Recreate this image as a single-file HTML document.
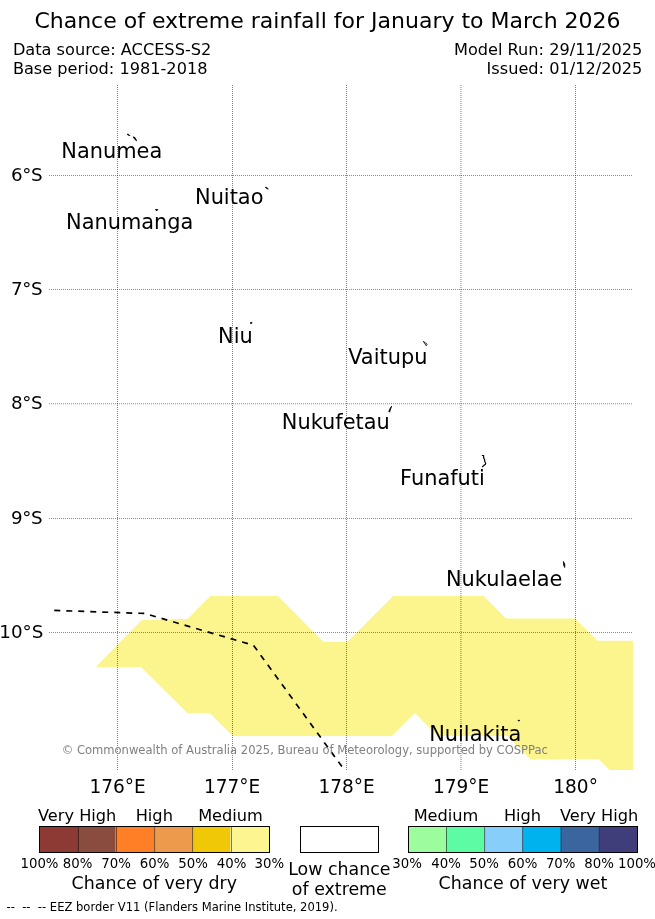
<!DOCTYPE html>
<html lang="en">
<head>
<meta charset="utf-8">
<title>Chance of extreme rainfall for January to March 2026</title>
<style>
html,body{margin:0;padding:0;background:#fff;}
body{width:655px;height:919px;overflow:hidden;}
svg{display:block;}
text{font-family:"DejaVu Sans","Liberation Sans",sans-serif;fill:#000;}
.title{font-size:22px;}
.info{font-size:16.17px;}
.isl{font-size:20.9px;}
.ax{font-size:18.3px;}
.lat{letter-spacing:-0.45px;}
.lon{font-size:18.55px;}
.tick{font-size:13.3px;}
.cat{font-size:16.2px;}
.cbl{font-size:17.4px;}
.copy{font-size:11.55px;fill:#808080;}
.foot{font-size:11.55px;}
.grid{stroke:#000;stroke-width:1;stroke-dasharray:1 1;fill:none;}
.gh{stroke-opacity:.45;}
.gv{stroke-opacity:.5;}
.land{fill:#000;stroke:#000;stroke-width:0.8;stroke-linejoin:round;}
</style>
</head>
<body>
<svg width="655" height="919" viewBox="0 0 655 919">
<rect x="0" y="0" width="655" height="919" fill="#ffffff"/>

<!-- header -->
<text class="title" x="327.5" y="27.8" text-anchor="middle">Chance of extreme rainfall for January to March 2026</text>
<text class="info" x="12.9" y="54.6">Data source: ACCESS-S2</text>
<text class="info" x="12.9" y="73.6">Base period: 1981-2018</text>
<text class="info" x="642.3" y="54.6" text-anchor="end">Model Run: 29/11/2025</text>
<text class="info" x="642.3" y="73.6" text-anchor="end">Issued: 01/12/2025</text>

<!-- shaded area -->
<path id="dry30" fill="#fcf58d" d="M95.9 666.9 L141.7 620 H171.2 V619.1 H187.5 L210.3 596.1 H277.9 L323.6 642.1 H347.2 L393.1 596.1 H483.7 L506 618.6 H575.2 L597.5 640.8 H633 V770 H609.6 L598.9 759.3 H530.7 L507.5 736.1 H437.9 L414.9 713.1 L391.9 736.1 H232.6 L209.7 713 H187.3 L140.9 666.9 Z"/>

<!-- grid -->
<g class="grid">
<path class="gh" d="M49 175.5H633"/>
<path class="gh" d="M49 289.5H633"/>
<path class="gh" d="M49 403.75H633"/>
<path class="gh" d="M49 518.5H633"/>
<path class="gh" d="M49 632.5H633"/>
<path class="gv" d="M117.5 85V770"/>
<path class="gv" d="M232.5 85V770"/>
<path class="gv" d="M346.5 85V770"/>
<path class="gv" d="M460.95 85V770"/>
<path class="gv" d="M575.5 85V770"/>
</g>

<!-- EEZ border -->
<path fill="none" stroke="#000" stroke-width="1.7" stroke-dasharray="6 6" d="M54.3 610.4 L145 613.5 L155 616.5 L253.5 645.3 L341.9 766.6"/>

<!-- islands -->
<g class="land">
<path d="M127 134.2 L128.7 134.4 L129.9 135.6 L128.3 135.3 Z"/>
<path d="M133.1 136.9 L134.9 137.4 L136.7 140.8 L135 139.6 Z"/>
<path d="M265.3 187.2 L266.8 187.6 L268.3 189.0 L266.6 188.6 Z"/>
<path d="M155.5 209.5 L157.9 209.5 L156.6 211 Z"/>
<path d="M250.6 322.5 L251.9 322.3 L251.7 323.5 L250.5 323.6 Z"/>
<path d="M423.3 341.3 L427.2 344.2 L426.2 345.8 Z" fill="none"/>
<path d="M391.6 406.2 L390.6 409 L389.6 412.2 L388.8 411.4 L390 408.6 Z"/>
<path d="M563.4 561.5 L564.8 564.2 L564.7 567.5 L563.6 565 Z"/>
<path d="M518 720.3 L519.6 720.3 L519.6 720.8 L518 720.8 Z"/>
</g>
<path fill="none" stroke="#000" stroke-width="1.2" stroke-linejoin="round" stroke-linecap="round" d="M482.3 455.5 L483.6 455.5 L483.7 458.2 L484.6 459.5 L484.8 461.4 L485.7 463.2 L485.4 464.3 L483.7 465.6 L482.4 466.7"/>

<!-- island labels -->
<text class="isl" x="61.3" y="157.5">Nanumea</text>
<text class="isl" x="195" y="204">Nuitao</text>
<text class="isl" x="66" y="228.6">Nanumanga</text>
<text class="isl" x="218" y="343">Niu</text>
<text class="isl" x="348.2" y="363.6">Vaitupu</text>
<text class="isl" x="281.8" y="428.8">Nukufetau</text>
<text class="isl" x="400.1" y="484.6">Funafuti</text>
<text class="isl" x="445.9" y="585.9">Nukulaelae</text>
<text class="isl" x="429.2" y="741.1">Nuilakita</text>

<!-- copyright -->
<text class="copy" x="61.7" y="753.7">© Commonwealth of Australia 2025, Bureau of Meteorology, supported by COSPPac</text>

<!-- latitude labels -->
<text class="ax lat" x="42.1" y="181" text-anchor="end">6°S</text>
<text class="ax lat" x="42.1" y="295.2" text-anchor="end">7°S</text>
<text class="ax lat" x="42.1" y="409.4" text-anchor="end">8°S</text>
<text class="ax lat" x="42.1" y="523.6" text-anchor="end">9°S</text>
<text class="ax" x="43.3" y="637.8" text-anchor="end">10°S</text>
<!-- longitude labels -->
<text class="ax lon" x="117.6" y="793.2" text-anchor="middle">176°E</text>
<text class="ax lon" x="232.1" y="793.2" text-anchor="middle">177°E</text>
<text class="ax lon" x="346.6" y="793.2" text-anchor="middle">178°E</text>
<text class="ax lon" x="461.1" y="793.2" text-anchor="middle">179°E</text>
<text class="ax lon" x="575.6" y="793.2" text-anchor="middle">180°</text>

<!-- dry colour bar -->
<g>
<rect x="39.5" y="826.5" width="38.5" height="26" fill="#8c3a33"/>
<rect x="78" y="826.5" width="37" height="26" fill="#8a4c3e"/>
<rect x="115" y="826.5" width="39.6" height="26" fill="#ff7f27"/>
<rect x="154.6" y="826.5" width="38.1" height="26" fill="#ee9a4c"/>
<rect x="192.7" y="826.5" width="37.4" height="26" fill="#f0c808"/>
<rect x="230.1" y="826.5" width="39.4" height="26" fill="#fdf590"/>
<path d="M78.4 826.5V852.5M116.4 826.5V852.5M154.6 826.5V852.5M192.6 826.5V852.5M231.4 826.5V852.5" stroke="#000" stroke-width="0.55" fill="none"/>
<rect x="39.5" y="826.5" width="230" height="26" fill="none" stroke="#000" stroke-width="1"/>
</g>
<text class="cat" x="38" y="820.8">Very High</text>
<text class="cat" x="154.3" y="820.8" text-anchor="middle">High</text>
<text class="cat" x="230.5" y="820.8" text-anchor="middle">Medium</text>
<text class="tick" x="39.5" y="868.3" text-anchor="middle">100%</text>
<text class="tick" x="77.6" y="868.3" text-anchor="middle">80%</text>
<text class="tick" x="116" y="868.3" text-anchor="middle">70%</text>
<text class="tick" x="154.5" y="868.3" text-anchor="middle">60%</text>
<text class="tick" x="193" y="868.3" text-anchor="middle">50%</text>
<text class="tick" x="231.5" y="868.3" text-anchor="middle">40%</text>
<text class="tick" x="269.3" y="868.3" text-anchor="middle">30%</text>
<text class="cbl" x="154.3" y="888.7" text-anchor="middle">Chance of very dry</text>

<!-- neutral box -->
<rect x="300.5" y="826.5" width="78" height="26" fill="#fff" stroke="#000" stroke-width="1"/>
<text class="cbl" x="339.3" y="875.1" text-anchor="middle">Low chance</text>
<text class="cbl" x="339.3" y="895" text-anchor="middle">of extreme</text>

<!-- wet colour bar -->
<g>
<rect x="408.5" y="826.5" width="37.7" height="26" fill="#9dfc9c"/>
<rect x="446.2" y="826.5" width="38.4" height="26" fill="#5dfca4"/>
<rect x="484.6" y="826.5" width="38.1" height="26" fill="#87cefa"/>
<rect x="522.7" y="826.5" width="38.3" height="26" fill="#00b2ee"/>
<rect x="561" y="826.5" width="38.2" height="26" fill="#3a659f"/>
<rect x="599.2" y="826.5" width="38.3" height="26" fill="#3f3d7a"/>
<path d="M446.5 826.5V852.5M484.6 826.5V852.5M522.6 826.5V852.5M561 826.5V852.5M599.3 826.5V852.5" stroke="#000" stroke-width="0.55" fill="none"/>
<rect x="408.5" y="826.5" width="229" height="26" fill="none" stroke="#000" stroke-width="1"/>
</g>
<text class="cat" x="446" y="820.8" text-anchor="middle">Medium</text>
<text class="cat" x="522.5" y="820.8" text-anchor="middle">High</text>
<text class="cat" x="638.3" y="820.8" text-anchor="end">Very High</text>
<text class="tick" x="407" y="868.3" text-anchor="middle">30%</text>
<text class="tick" x="446" y="868.3" text-anchor="middle">40%</text>
<text class="tick" x="484" y="868.3" text-anchor="middle">50%</text>
<text class="tick" x="522.5" y="868.3" text-anchor="middle">60%</text>
<text class="tick" x="560.7" y="868.3" text-anchor="middle">70%</text>
<text class="tick" x="599" y="868.3" text-anchor="middle">80%</text>
<text class="tick" x="637" y="868.3" text-anchor="middle">100%</text>
<text class="cbl" x="522.9" y="888.7" text-anchor="middle">Chance of very wet</text>

<!-- footnote -->
<text class="foot" x="6.5" y="910.6" xml:space="preserve">--  --  -- EEZ border V11 (Flanders Marine Institute, 2019).</text>
</svg>
</body>
</html>
